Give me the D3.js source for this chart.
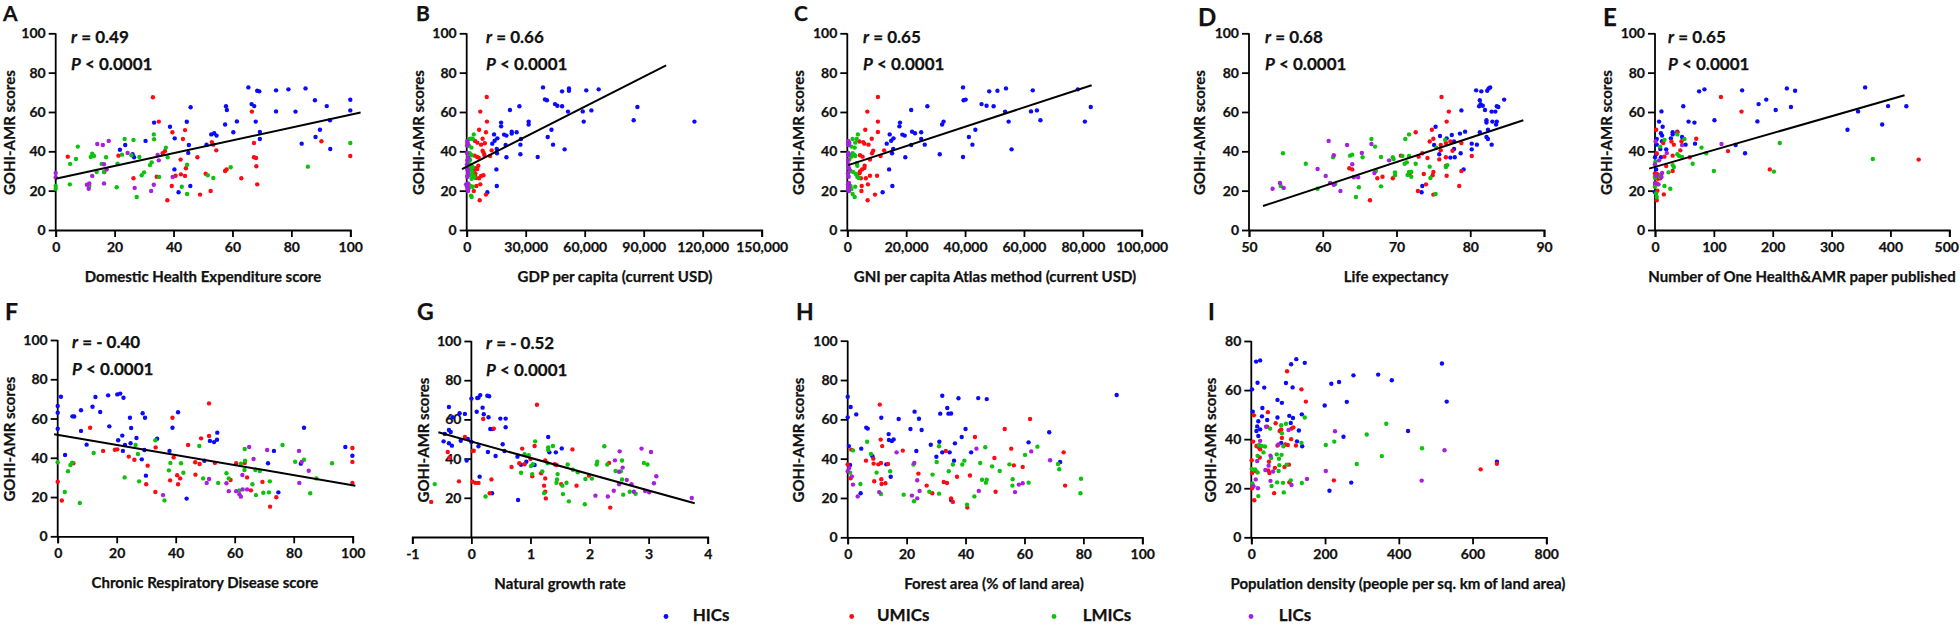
<!DOCTYPE html>
<html><head><meta charset="utf-8">
<script src="https://cdn.jsdelivr.net/npm/d3@7"></script>
<style>html,body{margin:0;padding:0;background:#fff}svg{display:block}text{font-family:Lato,"Open Sans",sans-serif;font-weight:700;fill:#111;stroke:#111;stroke-width:.25px}</style>
</head><body><svg id="c" width="1960" height="624"></svg>
<script>
const groups = ["HICs","UMICs","LMICs","LICs"];
const groupColors = ["#0a0aff","#ff0a14","#0cc30c","#a81fe0"];

const aHIC=[[65.4,72.5],[66.5,64],[67.4,63],[68.4,70.8],[69.1,70.5],[74.8,71],[79,71.5],[84.8,72],[88,66],[92,63],[100,66.2],[100,60.8],[74.8,60.3],[81.4,60.2],[57.8,62.9],[58.1,61],[45.8,62.4],[33.4,54.6],[38.8,52.5],[44.5,55],[57.5,53.6],[61.5,55.2],[67.9,55.1],[93.1,55.8],[89.7,51],[60.3,49.7],[69.3,49.8],[52.8,48.6],[53.8,49.2],[54.6,48],[40.4,46.6],[69.3,46.3],[88.2,47.3],[83.5,43.9],[51.2,43.4],[45.2,43.2],[30.5,45.3],[23.6,43.2],[21.8,40.8],[93.2,41.2],[45,39.2],[26.1,38.5],[26.6,37],[40.3,30.8],[45.7,22.4],[41.7,19.2]];
const aUMIC=[[33,67.5],[35,55.1],[66.6,60.2],[39.6,49.7],[43.9,50.8],[43.2,46.3],[53,44.7],[53.5,43.4],[67.3,44.2],[90.2,45.1],[54.5,40.5],[37.1,40.2],[36.3,39],[4.1,37.3],[21.3,37.8],[48.1,37],[67.3,37],[68,36.6],[42.4,35.8],[68.1,32.4],[44.2,31.4],[16.5,29.5],[26.4,26.3],[34.3,27.1],[40.7,27.6],[42.5,28.3],[43.9,27.5],[50.9,28.6],[57.5,30],[58,30.8],[63,26.3],[68.4,23.2],[39.4,22.4],[52.6,19.8],[49,18],[37.9,15.1],[100,37.6]];
const aLMIC=[[0,22.4],[0,21],[4.8,23.2],[4.9,33.6],[6.9,36.1],[7.5,42.4],[12.4,38.8],[11.9,37.1],[13,37.6],[11.4,22.4],[13.9,29.5],[15.6,33.6],[16.4,29.5],[17.1,37],[20.7,21.7],[21,33.7],[22.5,38.3],[23.4,46.3],[26.4,45.8],[25.7,38],[28.4,37.1],[27.5,16.8],[29.2,27.8],[30,29.3],[32,33],[32.6,34.4],[33.3,48.6],[33.4,46.1],[35.1,27],[37.4,41.9],[38,37],[42.8,22],[44.6,33.2],[44.6,18.3],[51.6,27.8],[53.5,26.4],[59.4,31.9],[85.6,32.2],[100,44.2]];
const aLIC=[[0,29],[0,26.8],[10.6,23],[11.4,23.7],[11.2,21],[12.4,27.5],[14.1,43.7],[16,43.2],[18,45.3],[16.4,33.4],[16.4,23.7],[17.3,30.8],[24.4,39.2],[26.8,21.4],[32.4,19.8],[33.3,23],[34.6,38.1],[35,35.4],[39.7,27]];

const bHIC=[[38800,72.5],[52000,72],[52000,70.8],[48500,70.5],[60800,71],[67100,71.5],[39800,66.4],[40800,66],[44900,64],[46100,63.2],[48500,62.9],[26800,62.9],[22000,61],[86800,62.5],[63400,60.8],[51500,60.2],[59000,60.3],[59500,55.1],[84900,55.8],[115800,55.1],[17500,54.6],[17500,52.7],[31500,55.1],[31500,53.6],[43100,51],[25400,49.7],[22900,50],[22900,49],[13900,48.6],[19000,48.5],[20200,48],[27600,46.3],[15600,46.6],[14200,45.4],[13000,43.9],[41200,47.3],[19800,43.2],[27300,43.4],[43900,43.4],[15300,41.2],[49800,41],[15400,39],[27300,38.5],[20200,37],[36100,37.1],[15100,30.8],[15300,22.4],[10500,19.2]];
const bUMIC=[[10200,67.6],[6900,60.2],[10300,55.1],[6300,51],[9800,49.7],[8100,46.4],[4200,45.3],[5400,44.4],[7300,43.4],[9200,44.1],[12700,40.5],[8100,40.3],[8600,39.3],[4100,37.8],[5300,37.1],[6100,36.8],[9000,38.1],[11900,37.6],[5900,32.7],[4600,31.4],[5400,31],[3700,30.2],[4400,28.8],[4200,27.8],[4700,26.4],[6300,26.3],[7300,27.5],[8500,27.8],[4900,22.4],[6900,23.2],[3600,19.8],[9800,18],[6600,15.1]];
const bLMIC=[[3600,48.6],[1200,46.3],[2200,46.4],[3050,46.4],[1200,42.8],[2400,41.9],[1350,38.9],[850,37.6],[2000,38.3],[700,36],[1700,35.6],[850,34],[2000,33.2],[2200,31.4],[1200,30.2],[2900,29.5],[3400,27.6],[3900,26.8],[1000,23.2],[2000,22.4],[3050,22],[1200,21.5],[2200,17.5],[2500,16.8],[1500,39],[2600,38],[1000,31],[3000,32],[1700,28],[2500,26]];
const bLIC=[[340,45.3],[500,43.7],[170,42.9],[170,39.2],[850,36.8],[170,33.4],[500,30.8],[680,29],[340,27.5],[340,27],[-300,23.2],[170,22.2],[500,21.4],[680,19.8],[300,35.4],[400,44.5],[600,23.7],[250,31],[450,20.8]];

const cHIC=[[39300,72.5],[53900,72],[48200,70.5],[51000,70.8],[63000,71],[78300,71.5],[39500,66],[40200,66.3],[45600,64],[47300,63.2],[49700,62.9],[27200,62.9],[82700,62.5],[21700,61],[64400,60.8],[53600,60.2],[62400,60.3],[54800,55.1],[65600,55.8],[80700,55.1],[17900,54.6],[17700,52.7],[32700,55.1],[32200,53.6],[43500,51],[25100,49.7],[22000,50],[23000,49.2],[14400,48.6],[18700,48.5],[19500,48],[25100,46.3],[15700,46.6],[14900,45.4],[13400,43.9],[41300,47.3],[21700,43.2],[26300,43.4],[42500,43.4],[15600,41.2],[55800,41],[15200,39],[31400,38.5],[19700,37],[39300,37.1],[14200,30.8],[15300,22.4],[12000,19.2]];
const cUMIC=[[10400,67.6],[6800,60.2],[10400,55.1],[6100,51],[10400,49.8],[8300,46.4],[4100,45],[5400,44.7],[5800,43.9],[7200,43.4],[12500,40.5],[8800,40.3],[8400,39],[4300,38],[5200,37.3],[11300,37.6],[7700,35.8],[5900,32.7],[5800,31.5],[5000,30.8],[4300,29.8],[4100,28.8],[10100,27.6],[7700,27.6],[6300,26.3],[4600,26.3],[4900,22.4],[7000,23.2],[4800,19.8],[9400,18],[6900,15.1]];
const cLMIC=[[3600,48.6],[1800,46.3],[3200,46.3],[2700,44.4],[1400,42.4],[2500,41.9],[1000,38.1],[1800,39],[1400,37.3],[2300,38.3],[2700,37.6],[700,35.9],[3200,33.9],[3400,32.7],[1100,30],[2000,29.5],[2900,28.5],[3400,27.1],[3900,26.4],[2700,22],[1100,22.4],[1800,18.3],[2500,16.8],[700,21.4],[1400,20.8]];
const cLIC=[[340,45.3],[680,44.4],[450,43.2],[340,39.2],[340,38.1],[230,35.6],[340,33.4],[680,30.8],[230,28.8],[450,27.1],[570,23.9],[230,23.2],[340,21.4],[570,19.8],[500,31.5],[300,27.5],[600,22],[250,20.5],[400,43.7]];

const dHIC=[[82.7,72.5],[82.5,72],[82.3,70.8],[80.8,71],[81.5,70.5],[84.6,66.3],[81.3,66],[81.4,64],[81.7,63.2],[82,61],[81.2,62.9],[83.6,62.9],[83.8,62.5],[78.8,60.8],[82.9,60.2],[83.4,60.2],[82.2,55.8],[82.2,54.6],[83,55.1],[83.6,55.1],[83.5,53.6],[75.3,52.5],[82.4,51],[81.3,49.7],[79.3,50],[78.6,49],[77.5,48.3],[75.9,47.8],[82.2,47.3],[76.8,46.6],[82.4,46.3],[77.8,45],[80.2,43.9],[80.9,43.4],[82.9,43.4],[75.1,43.2],[77.8,41.2],[80.2,41],[78.7,39],[75.8,38.5],[77.3,36.8],[77.9,37],[79.1,30.8],[73.5,22.4],[73.4,19.2]];
const dUMIC=[[76.1,67.6],[77.1,60.2],[76.8,55.1],[74.8,51],[72.6,49.7],[75,46.4],[77.3,45],[74.5,45],[76.7,44.2],[78.8,44.2],[76,43.2],[77.6,40.3],[76,40.5],[73.5,39],[70.6,37.8],[73,37.3],[80.2,37.6],[74.2,36.6],[76.7,37],[75.8,35.9],[76.7,32.5],[63.6,31.4],[64,30.8],[78.8,30],[75,29.5],[71.8,28.8],[73.7,28.5],[74.9,27.8],[76.8,27.6],[68.1,27.1],[67.4,26.3],[69.5,26.3],[78.5,22.4],[74,23.2],[72.9,19.8],[75,18],[66.4,15.1]];
const dLMIC=[[54.6,39],[57.7,33.7],[66.6,46.3],[67.1,42.4],[67.9,37.1],[65.4,37],[64,38.3],[63.7,37.8],[61.4,37],[71.7,48.6],[71.2,46.3],[76.6,45.8],[75.4,41.9],[69.5,37],[69.6,36.1],[70.8,37.6],[71.7,37.6],[71.1,33.7],[71.4,34.4],[72.6,33.7],[74.5,32.2],[76.9,33],[76.7,32],[67.2,30],[69.8,29.3],[69.8,27.8],[71.5,28],[71.7,29.5],[72,29.5],[72,27.1],[74.6,26.4],[67.9,22.2],[64.9,21.7],[61.7,23.4],[59.3,21],[54.3,22.4],[64.5,16.8],[75.3,18.3]];
const dLIC=[[60.8,45.3],[63.3,43.2],[66.6,43.7],[65.3,39.2],[61.5,38],[69,35.4],[64,33.4],[59.3,31],[67,29],[60.4,27.5],[64.2,26.8],[64.8,26.8],[54.2,23.9],[61,23.9],[61.5,23],[53.2,21],[54.7,21.4],[62.4,19.8]];

const eHIC=[[357,72.5],[224,72],[238,70.8],[148,71],[84,71.5],[75,70.5],[189,66.3],[176,64],[396,63],[427,62.9],[48,62.9],[231,62.5],[205,61],[345,60.3],[11,60.3],[174,55.2],[101,55.8],[57,55.1],[67,54.6],[7,55.1],[386,53.6],[13,52.5],[327,51],[38,50],[30,49.7],[30,48.6],[10,49.2],[12,48],[46,47.3],[3,46.3],[27,46.6],[12,45.1],[68,43.9],[3,43.4],[52,43.4],[137,43.2],[9,41.2],[19,41],[153,39],[2,38.5],[0,37],[10,37],[2,30.8],[0,22.4],[0,19.2]];
const eUMIC=[[112,67.6],[147,60.2],[2,51],[38,49.7],[70,46.4],[28,45],[45,45.1],[14,44.2],[32,43.4],[43,40.5],[124,40.1],[3,39],[30,37.8],[16,37.3],[59,37],[448,35.8],[19,32.5],[195,30.8],[30,30],[0,28.8],[3,28.5],[6,28],[0,27.1],[4,27.1],[7,26.6],[1,26.3],[5,26],[9,26.3],[3,23.7],[0,22.4],[4,20],[15,18.1],[3,15.1]];
const eLMIC=[[38,48.6],[50,46.3],[16,45.8],[9,42.4],[79,41.9],[212,44.2],[87,39],[38,38.5],[41,37.6],[46,37.1],[370,36.1],[64,33.7],[30,33],[32,32],[1,34.9],[0,33.6],[100,30],[202,29.7],[23,29.3],[10,28],[0,26.6],[16,22.4],[26,21],[0,22],[3,16.8],[2,18.6],[9,27]];
const eLIC=[[113,43.7],[46,43.2],[20,39.2],[7,35.4],[0,33.4],[12,29],[2,27.5],[11,27],[6,23.2],[0,23.9],[1,45]];

const fHIC=[[1.1,71.1],[0,66.4],[0,63],[0,54.8],[5,61.1],[5.6,61],[7.9,64.2],[7.9,53.7],[11.8,66],[12.8,71],[14.4,63.3],[17.1,71.8],[17.5,56],[20.2,72.3],[21.2,72.7],[22.3,70.6],[20.5,48.9],[21.9,51.3],[22.1,43.5],[22.8,46.5],[24.5,60.4],[24.9,55.2],[24.7,47.4],[26.7,50.1],[28.5,39.2],[28.8,62.7],[29.6,60.4],[29.4,44],[29.9,30.9],[33.7,49.7],[37.9,43.5],[38.9,55.3],[40.8,63.2],[43.7,19.2],[51.6,48.6],[53,48],[54,49.2],[54.1,52.8],[49.7,38.5],[2.5,41.4],[9.8,46.7],[71.3,37.2],[73.3,43.5],[74.8,22.4],[82.4,37],[83.5,55.3],[97.5,45.5],[99.9,41]];
const fUMIC=[[0,27.8],[1.4,18.2],[5.3,37.2],[11,55.3],[15.4,43.5],[19.4,44.1],[20.2,44.3],[24.1,40.6],[26,39],[30.5,36],[30,26.5],[33.2,45.3],[33.1,22.6],[38.1,28.5],[38.9,60.4],[39.3,40.2],[40.5,31.1],[40.8,26.5],[41.5,29.5],[44.2,46.5],[46.6,37.7],[46.7,31.4],[48.1,36.8],[48.6,49.9],[51.3,51.1],[51.3,67.7],[53.3,37.4],[58.6,28.7],[60.5,37.2],[63.4,37.4],[64.2,30],[65.5,23.4],[69.4,27.7],[72,15.1],[74.1,19.9],[99.9,45],[99.9,37.9],[99.9,27.2]];
const fLMIC=[[0,37.7],[2.4,22.6],[3.5,33.1],[4.3,36.3],[4.9,37.5],[7.5,17],[12.2,42.4],[22.7,30],[26.4,46.5],[27.2,41.9],[27.6,28],[33.1,48.9],[36.2,18.3],[37.7,33.6],[38.2,37.4],[41.8,37.2],[42.6,32.4],[48,46],[49.3,29.5],[54.4,27.2],[57.2,32.1],[58,29.5],[61.6,23.4],[62.1,37],[63.3,33.8],[63.4,44.5],[63.5,38.5],[66,26.5],[67,33.8],[67.2,21],[68.5,33.3],[69.7,22.2],[71.6,22.4],[71.9,28],[76.2,46.5],[80.5,38],[83.5,39],[85.6,21.9],[87.7,29.5],[93,37.2]];
const fLIC=[[35.7,21],[50.5,27.2],[51.3,29.2],[57.2,27],[58,23],[60.5,23],[61.6,21.4],[62.1,20.2],[62.6,31.2],[62.7,23.9],[64.2,23.9],[64.9,45.5],[66.4,39.4],[71,44],[81.8,43.5],[81.9,27.2],[82.7,37.9],[85.1,33.4]];

const gHIC=[[0,70.6],[0.1,70.9],[0.12,71.1],[0.15,72.4],[0.27,72.1],[0.3,71.8],[-0.38,66.3],[0.19,66],[0.09,63.9],[0.21,62.6],[-0.2,63.1],[-0.11,62.8],[-0.32,61.1],[0.29,61.1],[0.49,60.4],[0.58,60.4],[0.32,55.1],[0.36,55.1],[0.58,56],[-0.38,54.6],[-0.35,53.6],[-0.45,52.6],[1.3,51],[-0.06,50],[-0.18,49.1],[-0.47,48.8],[-0.38,47.8],[-0.33,46.6],[0,48.5],[0.12,46.3],[0.53,47.3],[0.56,43.9],[0.28,43.4],[1.32,43.2],[1.43,43.2],[1.53,45.2],[0.41,41.3],[0.78,41],[-0.08,39],[0.93,38.4],[0.84,36.9],[1.07,36.7],[0.14,30.8],[0.35,22.3],[0.79,18.9]];
const gUMIC=[[1.11,67.5],[0.2,60.2],[0.38,55.3],[-0.11,51],[1.07,46.4],[0.86,45.1],[1.71,44.7],[-0.4,43.4],[-0.37,40.5],[0.04,44],[0.02,43.9],[1,39.8],[1.25,39.1],[0.68,35.7],[0.81,37.6],[0.9,37.1],[1.41,37.1],[1.44,36.7],[2.33,37.8],[1.18,32.5],[1.03,31],[1.99,31.3],[1.25,29.9],[-0.21,28.4],[0.02,28.2],[0.07,27.6],[0.12,27.6],[0.34,29.4],[1.52,27],[1.23,26.2],[1.78,26.2],[0.31,22.3],[1.25,23.1],[1.26,19.7],[-0.68,17.9],[2.35,15]];
const gLMIC=[[-0.62,27],[0.24,20.7],[0.84,32.8],[0.9,42.2],[0.97,41.7],[1.08,48.8],[1.01,36.2],[1.04,37.2],[1.03,32.1],[1.2,33.5],[1.23,22.4],[1.3,45.7],[1.3,44.4],[1.29,37.6],[1.38,46.4],[1.46,32.1],[1.45,29.4],[1.44,27.7],[1.54,26.2],[1.55,21.9],[1.61,27.7],[1.63,37],[1.65,18.2],[1.72,34.3],[1.8,33],[1.93,29.6],[1.92,16.7],[2.04,29.8],[2.12,37],[2.13,38.4],[2.25,46.3],[2.3,37],[2.44,33.7],[2.53,33.5],[2.55,29.3],[2.55,39],[2.57,21.6],[2.68,23.1],[2.78,22.1],[2.92,37.8],[2.98,37]];
const gLIC=[[2.1,21.1],[2.31,20.7],[2.41,23.6],[2.43,39.1],[2.5,33.3],[2.5,26.9],[2.51,43.7],[2.56,35.4],[2.63,29.1],[2.71,26.9],[2.75,23.1],[2.88,45.1],[2.94,23.5],[3.01,22.8],[3.04,43.4],[3.09,27.4],[3.13,31],[3.73,19.9]];

const hHIC=[[0,71.5],[1,66.3],[0,61],[2.9,62.5],[11.4,60.8],[6.3,55.8],[6.8,55.3],[17.3,60.2],[21.3,55.1],[22.7,63.9],[24.2,60.3],[25.1,54.6],[13.9,52.5],[14,49.5],[15,49],[15.6,49.8],[0.4,46.4],[4.6,45.1],[8.4,41.2],[13.1,37.1],[0.8,36.8],[14.6,30.8],[4.4,22.4],[32.1,72],[31.4,62.9],[33.8,65.8],[34.2,62.9],[35.1,63],[37.6,70.7],[44.3,70.8],[47.2,70.3],[91.3,72.4],[68.4,53.4],[61.4,48.3],[40,55.1],[38.7,51],[36.4,47.8],[31.1,48.6],[28.2,47.1],[23.3,43.9],[30.1,41],[32.1,43.2],[34.6,43.2],[36.1,39],[41.9,43.2],[72.1,38.3],[35.1,19]];
const hUMIC=[[10.9,67.5],[61.9,60.2],[53.3,55.1],[43.2,51],[11.2,49.7],[11.7,46.4],[1.2,44.6],[18.7,44.1],[33.3,43.9],[55.5,45.1],[73.3,43.2],[49.8,40.3],[8.7,40],[6.2,39],[0,37.1],[8.8,37.5],[10.4,37.1],[11.3,37.8],[13.7,37.3],[56.4,36.6],[59.4,35.8],[24,32.4],[37.1,30.8],[41.5,31.4],[1,30],[11.4,29.5],[9,28.5],[32.6,28.1],[33.7,27.6],[11.5,27.1],[12.8,27.5],[26.8,26.3],[73.8,26.3],[28.7,22.4],[50.2,23.2],[35.1,19.8],[35.7,18],[40.6,15.1]];
const hLMIC=[[6.6,48.6],[1.8,44.2],[7.9,42.4],[9.8,32.9],[0.8,32.9],[4.3,27.1],[11.3,22],[14.4,33.6],[19,21.7],[22.3,37],[22.5,18.3],[27.7,23.2],[28.8,31.9],[30.2,38.3],[31,46.3],[31,22.2],[34.3,33.6],[35.7,37],[38.9,37],[39.6,39],[40.5,16.6],[43,20.8],[45,37.8],[45.6,29.3],[46.7,45.8],[46.9,27.8],[47.2,29.3],[49,36.1],[51.6,33.7],[54.9,37.1],[56,29.5],[55.9,26.3],[60.2,41.9],[61.4,27.8],[64.4,46.1],[71.4,37.3],[71.8,34.6],[79.2,29.8],[79,22.4]];
const hLIC=[[0,33.6],[0.5,35.3],[1.4,31],[1.8,26.8],[3.4,20.8],[10.7,23],[16.6,43.2],[21.8,21.2],[22.6,37.8],[23.6,29],[23.6,19.8],[24.4,23.6],[43.7,45.1],[44.5,23.6],[56.8,23],[58.1,26.8],[59.4,27.5],[62.3,43.7],[68.7,39.2]];

const iHIC=[[13,71.6],[24,72.1],[122,72.6],[145,71.1],[108,70.5],[517,70.8],[277,66],[344,66.3],[381,64],[17,63],[94,62.9],[238,63.3],[217,62.6],[35,61],[112,61.1],[2,60.3],[71,56],[83,54.8],[259,55.2],[530,55.3],[199,53.7],[30,52.7],[4,51.2],[137,50.1],[29,49.3],[103,49.5],[71,48.8],[113,48.6],[43,47.8],[19,47.3],[107,46.6],[16,45.2],[24,44],[14,43.3],[129,43.5],[425,43.3],[19,41.3],[250,41],[124,39.1],[81,38.5],[138,37.1],[666,30.8],[271,22.3],[212,19]];
const iUMIC=[[97,67.7],[136,60.3],[148,55.3],[45,51],[7,49.7],[66,46.5],[114,44.8],[109,44.3],[43,45.1],[77,43.3],[81,44],[83,40.5],[108,40],[5,39],[14,37.2],[20,36.7],[24,35.9],[71,37.4],[92,37.8],[99,37.6],[121,37.4],[23,32.5],[1,31.4],[48,30.8],[666,30],[102,29.6],[90,28.7],[64,28.3],[622,27.7],[12,27],[2,26.2],[46,27.2],[49,26.2],[224,23.2],[103,22.4],[2,20],[62,18],[8,15.1]];
const iLMIC=[[145,48.8],[136,38.5],[94,46.3],[81,45.7],[51,44.3],[83,42.4],[87,37.1],[21,37.6],[28,37.2],[37,37],[33,34.6],[17,33.2],[54,32.3],[69,33.8],[82,33.6],[75,32],[76,29.4],[96,29.6],[74,27],[1,27.9],[10,27.7],[17,26.4],[70,22.4],[86,22.2],[107,23.2],[137,22.1],[55,20.9],[3,21.9],[19,16.8],[88,18.3],[202,37.6],[225,39],[313,41.9],[366,46.3],[354,33.1],[286,29.9],[463,36.3]];
const iLIC=[[227,43.2],[40,45.1],[101,43.7],[24,39.3],[74,37.8],[52,33.3],[16,31.1],[524,35.5],[47,29.2],[38,27.4],[59,26.8],[202,27],[12,23.6],[52,23],[151,23.8],[462,23.1],[109,21.3],[6,20.8],[18,20]];

const xLabels = ["Domestic Health Expenditure score","GDP per capita (current USD)","GNI per capita Atlas method (current USD)","Life expectancy","Number of One Health&AMR paper published","Chronic Respiratory Disease score","Natural growth rate","Forest area (% of land area)","Population density (people per sq. km of land area)"];
const rTexts = ["= 0.49","= 0.66","= 0.65","= 0.68","= 0.65","= - 0.40","= - 0.52",null,null];
const fitA=[[0,26.1],[103.5,59.7]], fitB=[[-2400,31],[101400,83.7]], fitC=[[340,33],[83000,73.6]], fitD=[[51.9,12.2],[87.2,55.8]], fitE=[[-10,31.2],[424,68.5]], fitF=[[-1.2,52],[100.9,25.8]], fitG=[[-0.56,53.4],[3.78,17.2]];
const x100=[0,20,40,60,80,100], yTicks=[0,20,40,60,80,100];

const panels=[
 {id:"A",s:[aHIC,aUMIC,aLMIC,aLIC],fit:fitA,xd:[0,100],xt:x100,x0:55.7,x1:350.3,yt:33.3,yb:230,yd:[0,100],ytk:yTicks,lx:3,ly:20.5,lf:21,ylx:15,tx:71,xlx:203},
 {id:"B",s:[bHIC,bUMIC,bLMIC,bLIC],fit:fitB,xd:[0,150000],xt:[0,30000,60000,90000,120000,150000],x0:466.7,x1:761.7,yt:33.3,yb:230,yd:[0,100],ytk:yTicks,lx:416,ly:20.5,lf:21,ylx:424.3,tx:486,xlx:615,fmt:d3.format(",")},
 {id:"C",s:[cHIC,cUMIC,cLMIC,cLIC],fit:fitC,xd:[0,100000],xt:[0,20000,40000,60000,80000,100000],x0:847.3,x1:1141.7,yt:33.3,yb:230,yd:[0,100],ytk:yTicks,lx:794,ly:20.5,lf:21,ylx:804,tx:863,xlx:995,fmt:d3.format(",")},
 {id:"D",s:[dHIC,dUMIC,dLMIC,dLIC],fit:fitD,xd:[50,90],xt:[50,60,70,80,90],x0:1249,x1:1544,yt:33.3,yb:230,yd:[0,100],ytk:yTicks,lx:1198,ly:26,lf:24,ylx:1205,tx:1265,xlx:1396},
 {id:"E",s:[eHIC,eUMIC,eLMIC,eLIC],fit:fitE,xd:[0,500],xt:[0,100,200,300,400,500],x0:1655,x1:1949.3,yt:33.3,yb:230,yd:[0,100],ytk:yTicks,lx:1603,ly:26,lf:24,ylx:1611.7,tx:1668,xlx:1802,lastDx:-3},
 {id:"F",s:[fHIC,fUMIC,fLMIC,fLIC],fit:fitF,xd:[0,100],xt:x100,x0:57.7,x1:352.7,yt:340,yb:536.3,yd:[0,100],ytk:yTicks,lx:5,ly:320,lf:23,ylx:15,tx:72,xlx:205},
 {id:"G",s:[gHIC,gUMIC,gLMIC,gLIC],fit:fitG,xd:[-1,4],xt:[-1,0,1,2,3,4],x0:412.3,x1:707.7,yt:341,yb:537,yd:[0,100],ytk:[20,40,60,80,100],lx:417,ly:320,lf:23,ylx:429,tx:486,xlx:560,crossY:true},
 {id:"H",s:[hHIC,hUMIC,hLMIC,hLIC],xd:[0,100],xt:x100,x0:847.7,x1:1142.3,yt:340.7,yb:537.3,yd:[0,100],ytk:yTicks,lx:796,ly:320,lf:23,ylx:804,xlx:994},
 {id:"I",s:[iHIC,iUMIC,iLMIC,iLIC],xd:[0,800],xt:[0,200,400,600,800],x0:1251.3,x1:1546.3,yt:341,yb:537.3,yd:[0,80],ytk:[0,20,40,60,80],lx:1208,ly:320,lf:23,ylx:1215.7,xlx:1398}
];

const svg=d3.select("#c");
panels.forEach((p,i)=>{
  const g=svg.append("g");
  const x=d3.scaleLinear().domain(p.xd).range([p.x0,p.x1]);
  const y=d3.scaleLinear().domain(p.yd).range([p.yb,p.yt]);
  const yAxisX=p.crossY?x(0):p.x0;
  const xAx=d3.axisBottom(x).tickValues(p.xt).tickSize(7).tickPadding(5).tickFormat(p.fmt||(d=>d));
  const yAx=d3.axisLeft(y).tickValues(p.ytk).tickSize(7).tickPadding(3).tickFormat(d=>d);
  const gx=g.append("g").attr("transform",`translate(0,${p.yb})`).call(xAx);
  const gy=g.append("g").attr("transform",`translate(${yAxisX},0)`).call(yAx);
  gy.select(".domain").attr("d",`M0,${p.yb}V${p.yt}`);
  [gx,gy].forEach(a=>{
    a.attr("font-family",null).attr("font-size",null);
    a.selectAll(".domain,.tick line").attr("stroke","#000").attr("stroke-width",1.8);
    a.selectAll("text").style("font-size","14px").style("font-weight",700).attr("fill","#111");
  });
  if(p.lastDx) gx.selectAll(".tick:last-of-type text").attr("dx",p.lastDx);
  p.s.forEach((arr,k)=>{
    g.append("g").selectAll("circle").data(arr).join("circle")
      .attr("cx",d=>x(d[0])).attr("cy",d=>y(d[1])).attr("r",2.2).attr("fill",groupColors[k]);
  });
  if(p.fit){
    g.append("line").attr("x1",x(p.fit[0][0])).attr("y1",y(p.fit[0][1]))
      .attr("x2",x(p.fit[1][0])).attr("y2",y(p.fit[1][1]))
      .attr("stroke","#000").attr("stroke-width",2);
  }
  g.append("text").attr("x",p.xlx).attr("y",p.yb+52).attr("text-anchor","middle").style("font-size","15px").text(xLabels[i]);
  const cy=(p.yb+p.yt)/2+1;
  g.append("text").attr("transform",`translate(${p.ylx},${cy}) rotate(-90)`).attr("text-anchor","middle").style("font-size","15px").text("GOHI-AMR scores");
  g.append("text").attr("x",p.lx).attr("y",p.ly).style("font-size",p.lf+"px").text(p.id);
  if(rTexts[i]){
    const dy=p.yt>300?-2:0;
    const t1=g.append("text").attr("x",p.tx).attr("y",p.yt+10+dy).style("font-size","17px");
    t1.append("tspan").style("font-style","italic").text("r");
    t1.append("tspan").text(" "+rTexts[i]);
    const t2=g.append("text").attr("x",p.tx).attr("y",p.yt+37+dy).style("font-size","17px");
    t2.append("tspan").style("font-style","italic").text("P");
    t2.append("tspan").text(" < 0.0001");
  }
});
const legendDotX=[666,851.7,1054,1251], legendTextX=[692.7,877,1082.7,1278.7];
groups.forEach((name,k)=>{
  svg.append("circle").attr("cx",legendDotX[k]).attr("cy",616.5).attr("r",2.4).attr("fill",groupColors[k]);
  svg.append("text").attr("x",legendTextX[k]).attr("y",620.5).style("font-size","17px").text(name);
});
</script></body></html>
